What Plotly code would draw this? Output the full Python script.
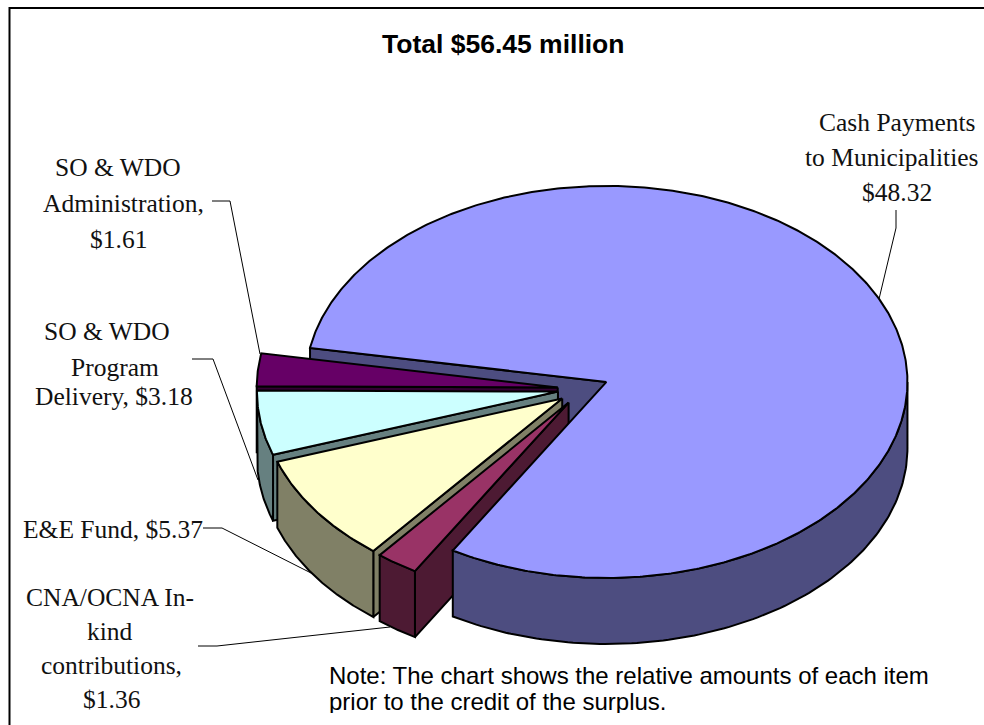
import numpy as np
import plotly.graph_objects as go

# Funding breakdown, $ millions, listed clockwise from the largest item
categories = ["Cash Payments to Municipalities", "CNA/OCNA In-kind contributions",
              "E&E Fund", "SO & WDO Program Delivery", "SO & WDO Administration"]
values = [48.32, 1.36, 5.37, 3.18, 1.61]
top_colors = ["#9999FF", "#993366", "#FFFFCC", "#CCFFFF", "#660066"]
wall_colors = ["#4D4D80", "#4D1A33", "#808066", "#668080", "#330033"]

title_text = "Total $56.45 million"
note_lines = ["Note: The chart shows the relative amounts of each item",
              "prior to the credit of the surplus."]

# (text, centre x, centre y) for each line of the slice labels
label_lines = [
    ("Cash Payments", 897, 122), ("to Municipalities", 892, 157), ("$48.32", 897, 192),
    ("SO & WDO", 118, 167), ("Administration,", 123, 203), ("$1.61", 118, 239),
    ("SO & WDO", 107, 331), ("Program", 115, 367), ("Delivery, $3.18", 114, 396),
    ("E&E Fund, $5.37", 113, 529),
    ("CNA/OCNA In-", 110, 597), ("kind", 110, 631), ("contributions,", 111, 665), ("$1.36", 111, 699),
]

# Leader lines running from the labels to their slices
leaders = [
    [(896, 210), (896, 228), (879, 299)],
    [(212, 201), (230, 201), (260, 354)],
    [(192, 359), (213, 359), (258, 480)],
    [(203, 528), (222, 528), (313, 574)],
    [(198, 646), (217, 646), (390, 627)],
]

# Projection of the tilted pie onto the page
CX, CY = 583.2, 388.9
RX, RY = 301, 196
DEPTH = 66
EXPLODE = 0.085
START_DEG = 170.0


def rim(ox, oy, t0, t1, dy=0.0, n=120):
    t = np.radians(np.linspace(t0, t1, n))
    return ox + RX * np.cos(t), oy - RY * np.sin(t) + dy


def polygon(x, y, fill):
    return go.Scatter(x=np.r_[x, x[0]], y=np.r_[y, y[0]], mode="lines", fill="toself",
                      fillcolor=fill, line=dict(color="black", width=2),
                      hoverinfo="skip", showlegend=False)


# Each slice runs clockwise from hi to lo (angles decrease clockwise)
spans = np.array(values) / sum(values) * 360.0
slices = []
hi = START_DEG
for span in spans:
    lo = hi - span
    mid = np.radians((hi + lo) / 2)
    ox = CX + EXPLODE * RX * np.cos(mid)
    oy = CY - EXPLODE * RY * np.sin(mid)
    slices.append((hi, lo, ox, oy))
    # small slices sit on the left, so keep their angles within 0..360
    hi = lo + 360.0 if lo < 0 else lo


def add_cut_face(i):
    # cut face below the slice's lower edge
    hi, lo, ox, oy = slices[i]
    ex, ey = rim(ox, oy, hi, hi, n=1)
    fig.add_trace(polygon(np.array([ox, ex[0], ex[0], ox]),
                          np.array([oy, ey[0], ey[0] + DEPTH, oy + DEPTH]), wall_colors[i]))


def add_outer_wall(i):
    # only the part of the rim that faces the viewer
    hi, lo, ox, oy = slices[i]
    wall_hi, wall_lo = (0.0, lo) if i == 0 else (hi, max(lo, 180.0))
    if wall_hi > wall_lo:
        xa, ya = rim(ox, oy, wall_hi, wall_lo)
        xb, yb = rim(ox, oy, wall_lo, wall_hi, dy=DEPTH)
        fig.add_trace(polygon(np.r_[xa, xb], np.r_[ya, yb], wall_colors[i]))


def add_top(i):
    hi, lo, ox, oy = slices[i]
    xt, yt = rim(ox, oy, hi, lo, n=max(30, int(abs(hi - lo) * 2)))
    fig.add_trace(polygon(np.r_[ox, xt], np.r_[oy, yt], top_colors[i]))


fig = go.Figure()

# Back to front: the small slices go between the large slice's cut face and the rest of it
add_cut_face(0)
for i in [4, 3, 2, 1]:
    add_cut_face(i)
    add_outer_wall(i)
    add_top(i)
add_outer_wall(0)
add_top(0)

# Note sits in a text trace so the strip below it can trim the last line
fig.add_trace(go.Scatter(x=[329, 329], y=[678, 704], mode="text", text=note_lines,
                         textposition="middle right", hoverinfo="skip", showlegend=False,
                         textfont=dict(family="Liberation Sans", size=24, color="black")))

shapes = [
    dict(type="rect", x0=9.5, y0=8, x1=1010, y1=760, line=dict(color="black", width=2),
         layer="below"),
    dict(type="rect", x0=320, y0=713, x1=960, y1=725, fillcolor="white", line_width=0,
         layer="above"),
]
for pts in leaders:
    path = "M " + " L ".join(f"{x} {y}" for x, y in pts)
    shapes.append(dict(type="path", path=path, line=dict(color="black", width=1), layer="below"))

annotations = [dict(x=503, y=44, text=f"<b>{title_text}</b>", showarrow=False,
                    xref="x", yref="y",
                    font=dict(family="Liberation Sans", size=26.5, color="black"))]
for text, x, y in label_lines:
    annotations.append(dict(x=x, y=y, text=text, showarrow=False, xref="x", yref="y",
                            font=dict(family="Liberation Serif", size=25.5, color="#111111")))

fig.update_layout(
    width=984, height=725, margin=dict(l=0, r=0, t=0, b=0),
    paper_bgcolor="white", plot_bgcolor="white", showlegend=False,
    xaxis=dict(range=[0, 984], visible=False, fixedrange=True),
    yaxis=dict(range=[725, 0], visible=False, fixedrange=True),
    shapes=shapes, annotations=annotations,
)
fig.write_html("out.html", config=dict(displayModeBar=False))
